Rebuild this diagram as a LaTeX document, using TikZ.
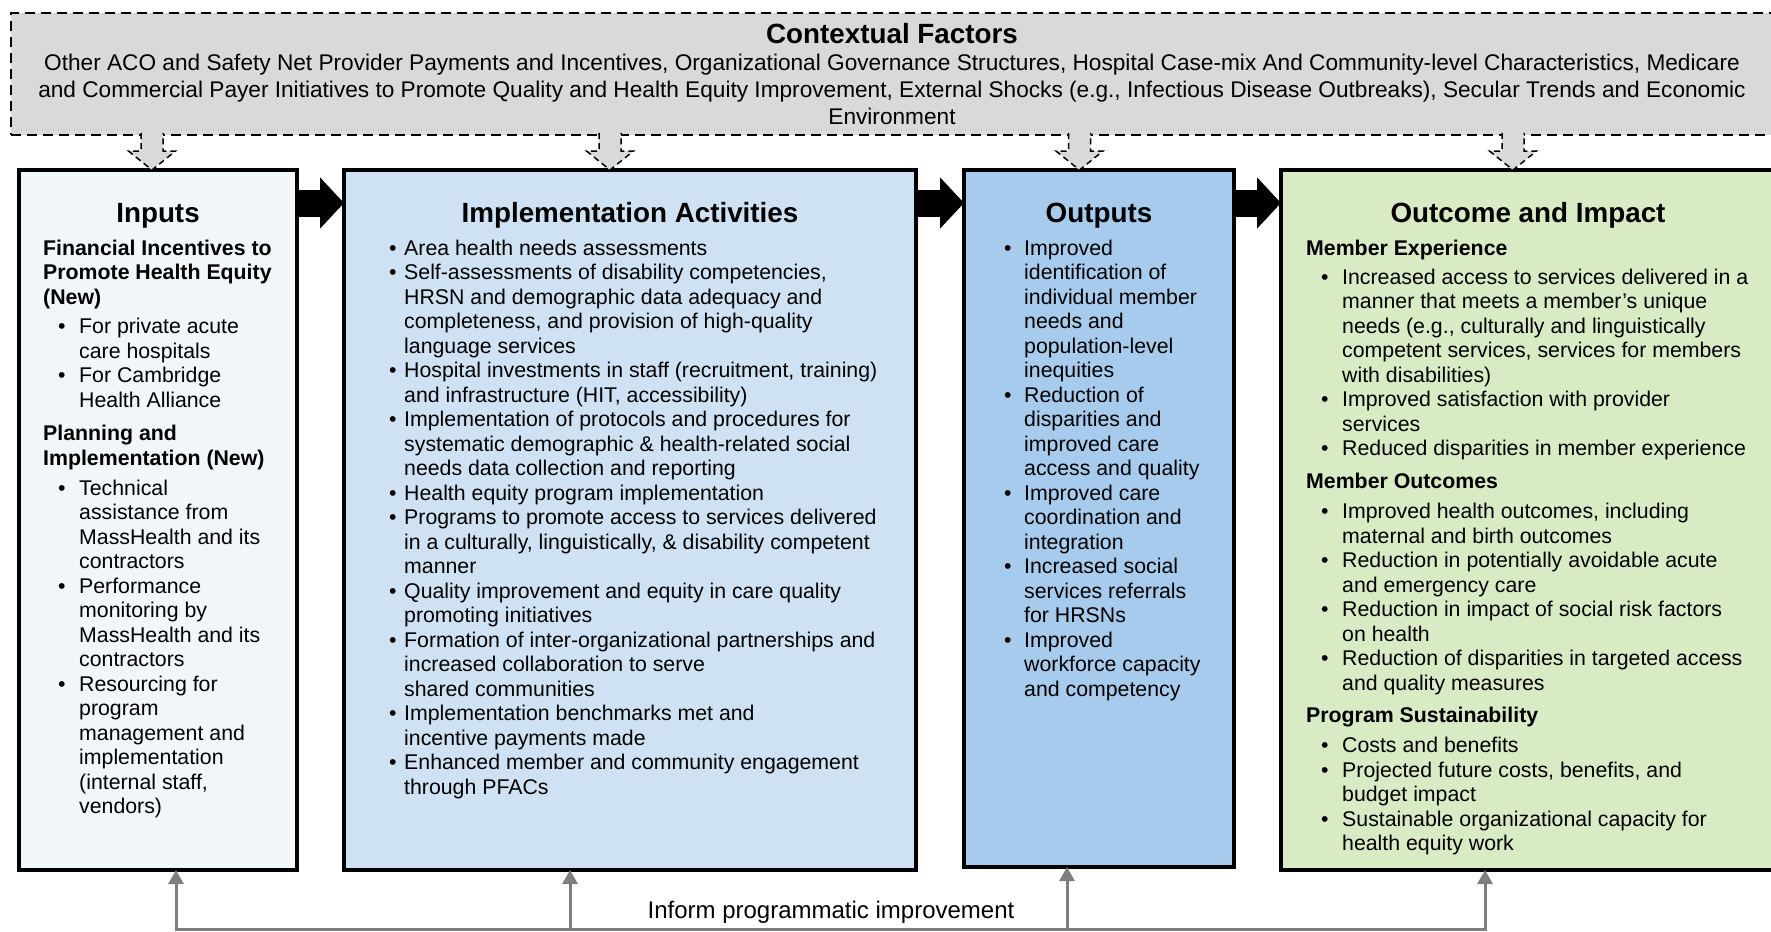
\documentclass[tikz,border=0pt]{standalone}
\usepackage{fontspec}
\setmainfont{Liberation Sans}
\usetikzlibrary{arrows.meta,calc}
\definecolor{ctxgray}{HTML}{D9D9D9}
\definecolor{inputsfill}{HTML}{F1F6FB}
\definecolor{implfill}{HTML}{CFE2F4}
\definecolor{outputsfill}{HTML}{A7CBEC}
\definecolor{outcomefill}{HTML}{D9EBC5}
\definecolor{fbgray}{HTML}{7F7F7F}
\newlength\bi
\newlength\bt
\newcommand\HD[1]{\par\noindent\textbf{#1}}
\newcommand\BL[1]{\par\noindent\hspace*{\bi}\makebox[\bt][l]{\textbullet}#1}
\newcommand\CL[1]{\par\noindent\hspace*{\dimexpr\bi+\bt\relax}#1}
\newcommand\GP[1]{\par\vspace{#1}}
\newcommand\TB[3]{\begin{minipage}[t]{600pt}\fontsize{21.3pt}{24.5pt}\selectfont\setlength\bi{#1}\setlength\bt{#2}\parindent0pt\parskip0pt\relax #3\end{minipage}}
\begin{document}
\begin{tikzpicture}[x=1pt,y=-1pt,
  box/.style={draw=black, line width=3.5pt, rectangle, outer sep=0pt, inner sep=0pt, anchor=north west},
  ctxbox/.style={draw=black, line width=2.7pt, dash pattern=on 10pt off 6pt, fill=ctxgray, rectangle, outer sep=0pt, inner sep=0pt, anchor=north west},
  boxtitle/.style={anchor=base, inner sep=0pt, font=\fontsize{27.8pt}{30pt}\selectfont\bfseries},
  txt/.style={anchor=base west, inner sep=0pt},
  blockarr/.style={draw=black, line width=27pt, -{Triangle[length=24pt,width=50pt]}},
  fb/.style={draw=fbgray, line width=3pt},
  fbtip/.style={-{Triangle[length=14pt,width=15pt]}}
]
\useasboundingbox (0,0) rectangle (1771,931);

% contextual factors
\node[ctxbox, minimum width=1775pt, minimum height=122pt] (ctx) at (11,13) {};
\node[boxtitle] (ctxtitle) at (892,44) {Contextual Factors};
\node[anchor=base, inner sep=0pt] (ctxtext) at (892,71) {\begin{minipage}[t]{1760pt}\centering\fontsize{22.65pt}{27pt}\selectfont
Other ACO and Safety Net Provider Payments and Incentives, Organizational Governance Structures, Hospital Case-mix And Community-level Characteristics, Medicare\\
and Commercial Payer Initiatives to Promote Quality and Health Equity Improvement, External Shocks (e.g., Infectious Disease Outbreaks), Secular Trends and Economic\\
Environment\end{minipage}};

% boxes
\node[box, fill=inputsfill, minimum width=278pt, minimum height=700pt] (inputs) at (19,170) {};
\node[box, fill=implfill, minimum width=572pt, minimum height=700pt] (impl) at (344,170) {};
\node[box, fill=outputsfill, minimum width=270pt, minimum height=697pt] (outputs) at (964,170) {};
\node[box, fill=outcomefill, minimum width=500pt, minimum height=700pt] (outcome) at (1281,170) {};

% dashed context arrows
\coordinate (t1) at (152,170);
\coordinate (t2) at (610,170);
\coordinate (t3) at (1079.5,170);
\coordinate (t4) at (1513,170);
\foreach \t in {t1,t2,t3,t4}{
  \draw[draw=black, line width=1.5pt, dash pattern=on 6pt off 4pt, fill=ctxgray]
    ($(\t)+(-11,-37)$) -- ($(\t)+(-11,-19)$) -- ($(\t)+(-23.5,-19)$) -- (\t)
    -- ($(\t)+(23.5,-19)$) -- ($(\t)+(11,-19)$) -- ($(\t)+(11,-37)$);
}

% block arrows
\draw[blockarr] ([yshift=-33pt]inputs.north east) -- ([yshift=-33pt]impl.north west);
\draw[blockarr] ([yshift=-33pt]impl.north east) -- ([yshift=-33pt]outputs.north west);
\draw[blockarr] ([yshift=-33pt]outputs.north east) -- ([yshift=-33pt]outcome.north west);

% titles
\node[boxtitle] (tin) at (158,222) {Inputs};
\node[boxtitle] (timpl) at (630,222) {Implementation Activities};
\node[boxtitle] (tout) at (1099,222) {Outputs};
\node[boxtitle] (toc) at (1528,222) {Outcome and Impact};

% inputs text
\node[txt] (inputstext) at (43,255) {\TB{15pt}{21pt}{%
\HD{Financial Incentives to}
\HD{Promote Health Equity}
\HD{(New)}
\GP{5pt}
\BL{For private acute}
\CL{care hospitals}
\BL{For Cambridge}
\CL{Health Alliance}
\GP{9pt}
\HD{Planning and}
\HD{Implementation (New)}
\GP{5.5pt}
\BL{Technical}
\CL{assistance from}
\CL{MassHealth and its}
\CL{contractors}
\BL{Performance}
\CL{monitoring by}
\CL{MassHealth and its}
\CL{contractors}
\BL{Resourcing for}
\CL{program}
\CL{management and}
\CL{implementation}
\CL{(internal staff,}
\CL{vendors)}}};

% implementation text
\node[txt] (impltext) at (389,255) {\TB{0pt}{15pt}{%
\BL{Area health needs assessments}
\BL{Self-assessments of disability competencies,}
\CL{HRSN and demographic data adequacy and}
\CL{completeness, and provision of high-quality}
\CL{language services}
\BL{Hospital investments in staff (recruitment, training)}
\CL{and infrastructure (HIT, accessibility)}
\BL{Implementation of protocols and procedures for}
\CL{systematic demographic \& health-related social}
\CL{needs data collection and reporting}
\BL{Health equity program implementation}
\BL{Programs to promote access to services delivered}
\CL{in a culturally, linguistically, \& disability competent}
\CL{manner}
\BL{Quality improvement and equity in care quality}
\CL{promoting initiatives}
\BL{Formation of inter-organizational partnerships and}
\CL{increased collaboration to serve}
\CL{shared communities}
\BL{Implementation benchmarks met and}
\CL{incentive payments made}
\BL{Enhanced member and community engagement}
\CL{through PFACs}}};

% outputs text
\node[txt] (outputstext) at (1004,255) {\TB{0pt}{20pt}{%
\BL{Improved}
\CL{identification of}
\CL{individual member}
\CL{needs and}
\CL{population-level}
\CL{inequities}
\BL{Reduction of}
\CL{disparities and}
\CL{improved care}
\CL{access and quality}
\BL{Improved care}
\CL{coordination and}
\CL{integration}
\BL{Increased social}
\CL{services referrals}
\CL{for HRSNs}
\BL{Improved}
\CL{workforce capacity}
\CL{and competency}}};

% outcome text
\node[txt] (outcometext) at (1306,255) {\TB{15pt}{21pt}{%
\HD{Member Experience}
\GP{4.5pt}
\BL{Increased access to services delivered in a}
\CL{manner that meets a member’s unique}
\CL{needs (e.g., culturally and linguistically}
\CL{competent services, services for members}
\CL{with disabilities)}
\BL{Improved satisfaction with provider}
\CL{services}
\BL{Reduced disparities in member experience}
\GP{8.5pt}
\HD{Member Outcomes}
\GP{5.5pt}
\BL{Improved health outcomes, including}
\CL{maternal and birth outcomes}
\BL{Reduction in potentially avoidable acute}
\CL{and emergency care}
\BL{Reduction in impact of social risk factors}
\CL{on health}
\BL{Reduction of disparities in targeted access}
\CL{and quality measures}
\GP{7.5pt}
\HD{Program Sustainability}
\GP{6pt}
\BL{Costs and benefits}
\BL{Projected future costs, benefits, and}
\CL{budget impact}
\BL{Sustainable organizational capacity for}
\CL{health equity work}}};

% feedback arrows
\coordinate (f1) at (176,929);
\coordinate (f2) at (570,929);
\coordinate (f3) at (1067,929);
\coordinate (f4) at (1485,929);
\draw[fb, {Triangle[length=14pt,width=15pt]}-{Triangle[length=14pt,width=15pt]}]
  (f1 |- inputs.south) -- (f1) -- (f4) -- (f4 |- outcome.south);
\draw[fb, fbtip] (f2) -- (f2 |- impl.south);
\draw[fb, fbtip] (f3) -- (f3 |- outputs.south);
\node[anchor=base, inner sep=0pt, font=\fontsize{24pt}{28pt}\selectfont] (fbtext) at (831,918) {Inform programmatic improvement};
\end{tikzpicture}
\end{document}
